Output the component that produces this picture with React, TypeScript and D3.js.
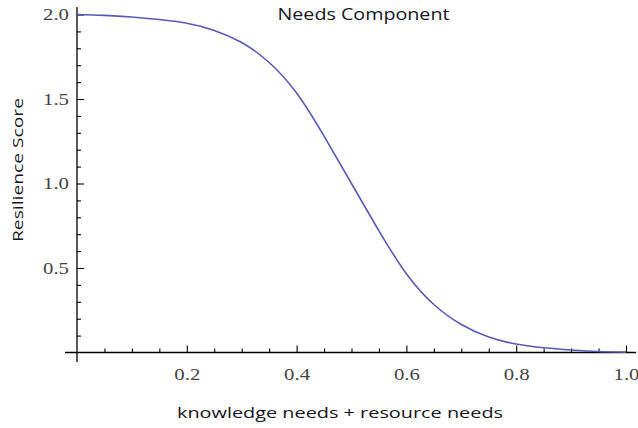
import React, { useEffect, useRef } from 'react';
import * as d3 from 'd3';

// needs value (x) and resilience score
const needs = [0, 0.05, 0.1, 0.15, 0.2, 0.25, 0.3, 0.35, 0.4, 0.45, 0.5, 0.55, 0.6, 0.65, 0.7, 0.75, 0.8, 0.85, 0.9, 0.95, 1.0];
const scores = [2.0, 1.995, 1.985, 1.97, 1.948, 1.906, 1.834, 1.716, 1.535, 1.28, 1.0, 0.72, 0.466, 0.284, 0.166, 0.092, 0.05, 0.028, 0.015, 0.006, 0.002];

const xMajor = [0.2, 0.4, 0.6, 0.8, 1.0];
const yMajor = [0.5, 1.0, 1.5, 2.0];

const title = 'Needs Component';
const xTitle = 'knowledge needs + resource needs';
const yTitle = 'Resilience Score';

const width = 638;
const height = 428;

export default function App() {
  const ref = useRef<SVGSVGElement>(null);

  useEffect(() => {
    const svg = d3.select(ref.current);
    svg.selectAll('*').remove();

    const x = d3.scaleLinear().domain([0, 1]).range([77, 626]);
    const y = d3.scaleLinear().domain([0, 2]).range([352.5, 14.5]);

    const xMinor = d3.range(1, 21).map((i) => i / 20).filter((v) => !xMajor.some((m) => Math.abs(m - v) < 1e-6));
    const yMinor = d3.range(1, 21).map((i) => i / 10).filter((v) => !yMajor.some((m) => Math.abs(m - v) < 1e-6));

    const styleAxis = (g: any) => {
      g.select('.domain').remove();
      g.selectAll('line').attr('stroke', '#000').attr('stroke-width', 1.1);
      g.selectAll('text')
        .attr('font-family', '"Liberation Serif", "DejaVu Serif", serif')
        .attr('font-size', 16)
        .attr('fill', '#444')
        .attr('textLength', 26)
        .attr('lengthAdjust', 'spacingAndGlyphs');
    };

    // axis lines
    svg.append('line').attr('x1', 65).attr('x2', 636).attr('y1', y(0)).attr('y2', y(0))
      .attr('stroke', '#000').attr('stroke-width', 1.3);
    svg.append('line').attr('x1', x(0)).attr('x2', x(0)).attr('y1', 7).attr('y2', 362)
      .attr('stroke', '#000').attr('stroke-width', 1.3);

    svg.append('g')
      .attr('transform', `translate(0,${y(0)})`)
      .call(d3.axisBottom(x).tickValues(xMinor).tickSize(-4).tickFormat(() => ''))
      .call(styleAxis);
    svg.append('g')
      .attr('transform', `translate(0,${y(0)})`)
      .call(d3.axisBottom(x).tickValues(xMajor).tickSize(-7).tickPadding(16).tickFormat(d3.format('.1f')))
      .call(styleAxis);

    svg.append('g')
      .attr('transform', `translate(${x(0)},0)`)
      .call(d3.axisLeft(y).tickValues(yMinor).tickSize(-4).tickFormat(() => ''))
      .call(styleAxis);
    svg.append('g')
      .attr('transform', `translate(${x(0)},0)`)
      .call(d3.axisLeft(y).tickValues(yMajor).tickSize(-7).tickPadding(8).tickFormat(d3.format('.1f')))
      .call(styleAxis);

    const line = d3.line<number>()
      .x((d, i) => x(needs[i]))
      .y((d) => y(d))
      .curve(d3.curveNatural);

    svg.append('path')
      .datum(scores)
      .attr('d', line)
      .attr('fill', 'none')
      .attr('stroke', '#5a5ab2')
      .attr('stroke-width', 1.6);

    const sans = '"Open Sans", "Noto Sans", sans-serif';

    svg.append('text')
      .attr('x', 363.5).attr('y', 20)
      .attr('text-anchor', 'middle')
      .attr('font-family', sans).attr('font-size', 16)
      .attr('fill', '#151522')
      .attr('textLength', 172).attr('lengthAdjust', 'spacingAndGlyphs')
      .text(title);

    svg.append('text')
      .attr('x', 340).attr('y', 418)
      .attr('text-anchor', 'middle')
      .attr('font-family', sans).attr('font-size', 15)
      .attr('fill', '#151522')
      .attr('textLength', 326).attr('lengthAdjust', 'spacingAndGlyphs')
      .text(xTitle);

    svg.append('text')
      .attr('transform', 'translate(23,170) rotate(-90)')
      .attr('text-anchor', 'middle')
      .attr('font-family', sans).attr('font-size', 14)
      .attr('fill', '#151522')
      .attr('textLength', 144).attr('lengthAdjust', 'spacingAndGlyphs')
      .text(yTitle);
  }, []);

  return (
    <svg
      ref={ref}
      width={width}
      height={height}
      style={{ position: 'absolute', left: 0, top: 0, background: '#fff' }}
    />
  );
}
